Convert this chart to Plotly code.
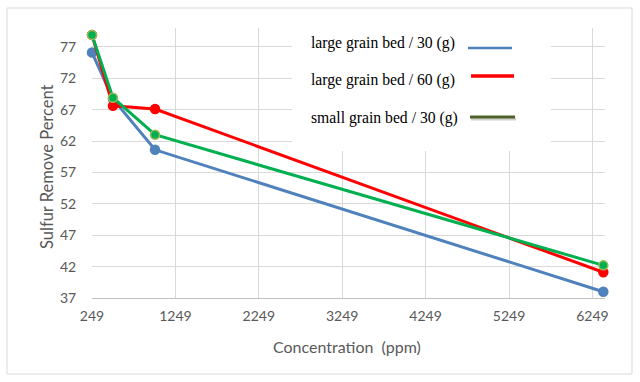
import plotly.graph_objects as go

# ---- data ----
concentration = [249, 500, 1005, 6380]
large_30 = [76.1, 68.7, 60.6, 38.0]
large_60 = [78.9, 67.6, 67.1, 41.1]
small_30 = [78.9, 68.9, 63.0, 42.2]
series_names = ["large grain bed / 30 (g)", "large grain bed / 60 (g)", "small grain bed / 30 (g)"]
x_ticks = [249, 1249, 2249, 3249, 4249, 5249, 6249]
y_ticks = [37, 42, 47, 52, 57, 62, 67, 72, 77]
x_title = "Concentration  (ppm)"
y_title = "Sulfur Remove Percent"

W, H = 640, 382
L, R, T, B = 92, 35, 28, 84
PW, PH = W - L - R, H - T - B


def px(x):
    return (x - L) / PW


def py(y):
    return (H - B - y) / PH


fig = go.Figure()
styles = [
    dict(color="#4f81bd", mline="#4f81bd", mfill="#4f81bd"),
    dict(color="#ff0000", mline="#ff0000", mfill="#ff0000"),
    dict(color="#00b050", mline="#9bbb59", mfill="#00b050"),
]
for name, ys, st in zip(series_names, [large_30, large_60, small_30], styles):
    fig.add_trace(go.Scatter(
        x=concentration, y=ys, name=name, mode="lines+markers",
        line=dict(color=st["color"], width=3),
        marker=dict(size=9, color=st["mfill"], line=dict(color=st["mline"], width=1.5)),
        showlegend=False, cliponaxis=False,
    ))

font_axis = "Lato, 'Open Sans', sans-serif"
fig.update_layout(
    width=W, height=H,
    margin=dict(l=L, r=R, t=T, b=B, autoexpand=False),
    paper_bgcolor="white", plot_bgcolor="white",
    font=dict(family=font_axis, color="#595959", size=14),
    xaxis=dict(
        range=[249, 6400], tickvals=x_ticks, ticktext=[str(v) for v in x_ticks],
        showgrid=True, gridcolor="#d9d9d9", gridwidth=1,
        showline=True, linecolor="#bfbfbf", linewidth=1,
        zeroline=False, ticks="outside", ticklen=5, tickcolor="rgba(0,0,0,0)",
        tickfont=dict(size=14, color="#595959"), automargin=False,
    ),
    yaxis=dict(
        range=[37, 80], tickvals=y_ticks, ticktext=[str(v) for v in y_ticks],
        showgrid=True, gridcolor="#d9d9d9", gridwidth=1,
        showline=False, zeroline=False, ticks="outside", ticklen=12,
        tickcolor="rgba(0,0,0,0)",
        tickfont=dict(size=14, color="#595959"), automargin=False,
    ),
)

shapes = []
# outer chart border
shapes.append(dict(type="rect", xref="paper", yref="paper",
                   x0=px(7), x1=px(632), y0=py(374), y1=py(8),
                   line=dict(color="#d9d9d9", width=1), fillcolor="rgba(0,0,0,0)", layer="above"))
# legend background box (hides gridlines)
shapes.append(dict(type="rect", xref="paper", yref="paper",
                   x0=px(292), x1=px(551), y0=py(151), y1=py(20),
                   line=dict(width=0), fillcolor="white", layer="above"))
# legend line samples
legend_lines = [
    (468, 512, 48, "#4f81bd", 2.5),
    (471, 514, 76, "#ff0000", 3.5),
    (470, 515, 117, "#4f6228", 3),
]
# shadow for green sample
shapes.append(dict(type="line", xref="paper", yref="paper",
                   x0=px(471), x1=px(516), y0=py(119), y1=py(119),
                   line=dict(color="rgba(0,0,0,0.18)", width=3), layer="above"))
for x0, x1, yy, c, w in legend_lines:
    shapes.append(dict(type="line", xref="paper", yref="paper",
                       x0=px(x0), x1=px(x1), y0=py(yy), y1=py(yy),
                       line=dict(color=c, width=w), layer="above"))
fig.update_layout(shapes=shapes)

annotations = []
for name, yy in zip(series_names, [43, 80, 118]):
    annotations.append(dict(text=name, xref="paper", yref="paper", x=px(309), y=py(yy),
                            xanchor="left", yanchor="middle", showarrow=False,
                            font=dict(family="'Liberation Serif', 'Times New Roman', serif",
                                      size=15.7, color="black")))
annotations.append(dict(text=x_title, xref="paper", yref="paper", x=px(347), y=py(346),
                        xanchor="center", yanchor="middle", showarrow=False,
                        font=dict(size=16, color="#595959")))
annotations.append(dict(text=y_title, xref="paper", yref="paper", x=px(47), y=py(167),
                        xanchor="center", yanchor="middle", showarrow=False, textangle=-90,
                        font=dict(size=16.5, color="#595959")))
fig.update_layout(annotations=annotations)

fig.write_html("out.html", config={"displayModeBar": False},
               post_script="document.body.style.margin='0';")
